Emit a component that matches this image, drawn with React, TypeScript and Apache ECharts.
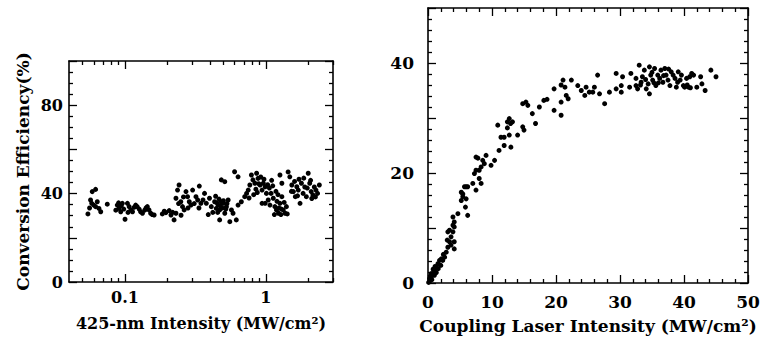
import React, { useEffect, useRef } from 'react';
import * as echarts from 'echarts';

const FONT = 'DejaVu Serif';

// Left panel: 425-nm intensity (MW/cm^2, log scale) vs conversion efficiency (%)
const leftX = [
  0.0545, 0.0569, 0.0585, 0.0618, 0.058, 0.06, 0.0635, 0.0653, 0.0672, 0.0618, 0.0748, 0.056,
  0.0881, 0.0906, 0.0932, 0.0957, 0.1, 0.104, 0.107, 0.11, 0.113, 0.119, 0.122, 0.129, 0.133, 0.144, 0.148, 0.152, 0.161, 0.09, 0.098, 0.105, 0.116, 0.126, 0.138, 0.156, 0.141, 0.086, 0.094,
  0.184, 0.195, 0.206, 0.212, 0.223, 0.23, 0.242, 0.236, 0.23, 0.249, 0.256, 0.263, 0.271, 0.278, 0.286, 0.294, 0.302, 0.319, 0.328, 0.337, 0.346, 0.24, 0.26, 0.28, 0.31, 0.335, 0.25, 0.218, 0.19,
  0.358, 0.367, 0.378, 0.398, 0.41, 0.433, 0.445, 0.458, 0.47, 0.483, 0.497, 0.511, 0.47, 0.483, 0.511, 0.525, 0.54, 0.555, 0.57, 0.585, 0.6, 0.617, 0.635, 0.635, 0.39, 0.42, 0.45, 0.465, 0.49, 0.5, 0.52, 0.475, 0.455, 0.53, 0.44,
  0.67, 0.708, 0.73, 0.75, 0.77, 0.79, 0.81, 0.836, 0.86, 0.88, 0.91, 0.94, 0.96, 0.99, 0.94, 0.99, 0.85, 0.89, 0.92, 0.97, 0.82, 0.76, 0.87,
  1.01, 1.04, 1.07, 1.09, 1.13, 1.16, 1.19, 1.23, 1.26, 1.3, 1.33, 1.37, 1.4, 1.26, 1.3, 1.03, 1.06, 1.12, 1.2, 1.24, 1.28, 1.22, 1.35, 1.15, 1.18, 1.29, 1.42, 1.1,
  1.44, 1.48, 1.53, 1.57, 1.62, 1.66, 1.7, 1.75, 1.79, 1.84, 1.89, 1.94, 2.0, 2.05, 2.1, 2.16, 2.21, 2.27, 2.4, 2.33, 1.6, 1.72, 1.86, 1.97, 2.08, 2.25, 1.52, 2.12, 1.68,
];
const leftY = [
  30.8, 37.1, 40.9, 41.9, 35.6, 34.8, 36.3, 33.3, 31.8, 34.1, 35.2, 33.5,
  34.8, 33.3, 31.8, 35.6, 28.4, 35.6, 34.1, 32.6, 31.8, 34.8, 34.1, 31.8, 31.1, 34.1, 32.6, 31.1, 30.3, 35.8, 33.0, 31.5, 33.8, 33.0, 32.5, 30.5, 33.5, 32.5, 34.5,
  30.8, 31.4, 32.3, 30.3, 28.1, 31.1, 43.9, 41.6, 37.9, 36.3, 34.1, 32.6, 40.9, 38.6, 36.3, 34.8, 41.6, 38.6, 37.1, 43.4, 35.6, 35.5, 38.5, 33.5, 35.5, 33.5, 30.2, 31.5, 32.0,
  37.1, 40.1, 35.6, 37.9, 34.1, 36.3, 33.3, 34.8, 32.6, 36.3, 35.6, 31.1, 28.1, 46.2, 45.4, 34.1, 37.1, 27.3, 32.6, 31.1, 49.9, 28.1, 47.6, 34.8, 30.5, 31.5, 35.8, 37.5, 33.5, 36.8, 33.0, 34.5, 31.5, 35.5, 38.8,
  36.3, 38.6, 40.1, 41.6, 43.9, 48.4, 46.2, 44.7, 49.2, 46.9, 43.9, 41.6, 44.7, 43.1, 35.6, 35.6, 42.0, 44.5, 47.5, 46.5, 39.5, 38.0, 40.5,
  40.1, 37.1, 34.8, 40.1, 37.9, 34.1, 32.6, 31.1, 35.6, 38.6, 32.6, 31.1, 34.1, 48.4, 44.7, 44.0, 42.5, 43.5, 36.5, 33.5, 30.5, 39.5, 36.0, 30.5, 41.0, 33.0, 30.8, 46.0,
  49.8, 47.6, 43.9, 40.9, 38.6, 43.1, 41.6, 35.6, 44.7, 40.1, 43.0, 38.6, 49.2, 44.7, 40.9, 39.4, 43.0, 41.6, 43.9, 40.1, 45.5, 46.5, 47.0, 42.5, 46.0, 38.5, 41.0, 37.8, 39.0,
];

// Right panel: coupling laser intensity (MW/cm^2) vs conversion efficiency (%)
const rightX = [
  0.1, 0.25, 0.5, 0.8, 1.0, 1.3, 1.55, 1.8, 2.07, 2.3, 2.6, 0.5, 0.8, 1.3, 0.3, 0.6, 1.0, 1.6, 2.0, 1.1, 0.4,
  2.85, 3.1, 3.36, 3.6, 3.1, 3.36, 3.9, 4.1, 3.9, 4.1, 3.9, 4.1, 4.1, 3.6, 2.4, 3.0,
  4.67, 5.2, 5.44, 5.7, 5.2, 5.44, 5.96, 5.85, 6.2, 5.96, 6.2, 7.0, 7.5, 7.25, 7.5, 7.8, 7.5, 8.0, 8.3, 8.0, 8.3, 8.55, 8.8, 9.07, 9.85, 10.4,
  10.9, 11.1, 11.4, 11.9, 11.9, 12.4, 12.7, 12.9, 13.2, 12.4, 12.7, 12.95, 14.0, 14.8, 15.0, 14.8, 15.3, 15.6, 16.3, 16.8, 17.4, 18.1, 18.6, 19.7, 19.7,
  20.8, 20.8, 21.1, 20.8, 21.4, 21.6, 21.9, 22.4, 23.4, 23.95, 24.5, 24.7, 25.2, 25.75, 26.0, 26.5, 26.8, 27.6, 28.35, 29.4, 29.4, 30.2, 30.4, 30.2,
  31.5, 31.7, 32.5, 32.5, 32.75, 33.0, 33.3, 33.5, 33.8, 34.1, 34.4, 34.6, 34.6, 34.8, 35.1, 35.4, 35.6, 35.9, 36.2, 36.4, 36.7, 37.0, 37.2, 37.5, 37.8,
  38.0, 38.3, 38.6, 38.8, 39.1, 39.4, 39.6, 39.9, 40.1, 40.4, 40.7, 40.9, 41.2, 41.5, 42.0, 42.6, 42.8, 43.3, 44.2, 45.0,
  33.2, 34.0, 35.0, 36.0, 37.6, 39.0, 40.5, 41.0, 35.3, 36.8,
];
const rightY = [
  0.1, 0.8, 1.1, 1.7, 2.3, 2.9, 3.5, 4.1, 4.4, 4.1, 4.7, 1.7, 2.5, 1.9, 0.4, 0.6, 1.4, 2.6, 3.2, 3.0, 1.3,
  5.6, 6.5, 7.5, 8.4, 9.3, 9.6, 9.3, 10.2, 10.5, 11.1, 12.0, 7.5, 6.2, 6.9, 5.2, 7.8,
  12.6, 15.0, 16.2, 17.5, 16.5, 15.7, 15.3, 13.8, 12.3, 17.5, 17.5, 18.1, 16.9, 19.9, 22.9, 22.7, 20.5, 20.5, 21.1, 19.0, 18.1, 22.3, 21.7, 23.2, 21.4, 22.3,
  28.7, 24.1, 26.5, 26.5, 25.0, 29.3, 29.9, 29.0, 29.3, 28.2, 26.9, 24.7, 26.9, 28.4, 27.8, 32.6, 32.9, 32.3, 30.8, 29.0, 32.0, 33.2, 33.4, 35.3, 31.4,
  30.5, 32.9, 36.9, 36.0, 35.6, 34.1, 33.5, 36.9, 35.9, 35.0, 34.1, 35.6, 34.7, 34.7, 35.6, 37.8, 34.4, 32.6, 34.7, 35.3, 38.1, 34.7, 37.5, 35.9,
  35.6, 38.1, 37.2, 35.9, 35.3, 39.6, 36.5, 37.5, 38.7, 35.3, 36.2, 34.4, 39.3, 37.8, 36.9, 39.0, 35.9, 37.8, 37.2, 38.7, 36.5, 39.0, 37.8, 36.9, 35.9,
  38.4, 37.8, 37.2, 35.6, 38.4, 36.9, 37.8, 35.9, 35.6, 37.2, 35.6, 37.5, 38.1, 37.8, 35.6, 37.5, 36.2, 35.0, 38.7, 37.5,
  36.0, 37.0, 38.3, 36.4, 38.9, 36.5, 36.0, 35.5, 36.4, 37.7,
];

// Tick values
const logMajorTicks = [0.1, 1];
const logMinorTicks = [0.05, 0.06, 0.07, 0.08, 0.09, 0.2, 0.3, 0.4, 0.5, 0.6, 0.7, 0.8, 0.9, 2, 3];
const leftYLabels = [0, 40, 80];
const rightYLabels = [0, 20, 40];
const LOG_MIN = 0.04;
const LOG_MAX = 3;

const lg = (v: number) => Math.log10(v);

const labelText = { fontFamily: FONT, fontWeight: 'bold' as const, fontSize: 16, color: '#000' };
const nameText = { fontFamily: FONT, fontWeight: 'bold' as const, fontSize: 16, color: '#000' };
const lineStyle = { color: '#000', width: 1.6 };
const tickLine = { color: '#000', width: 1.3 };

function logAxis(position: 'top' | 'bottom', major: boolean, withLabels: boolean, extra: any = {}) {
  const values = (major ? logMajorTicks : logMinorTicks).map(lg);
  return {
    type: 'value',
    gridIndex: 0,
    position,
    min: lg(LOG_MIN),
    max: lg(LOG_MAX),
    axisLine: { show: major, onZero: false, lineStyle },
    axisTick: { show: true, inside: true, length: major ? 8 : 4, customValues: values, lineStyle: tickLine },
    axisLabel: withLabels
      ? {
          show: true,
          customValues: values,
          margin: 7,
          ...labelText,
          formatter: (v: number) => String(Math.round(Math.pow(10, v) * 100) / 100),
        }
      : { show: false },
    splitLine: { show: false },
    ...extra,
  };
}

function linAxis(grid: number, position: string, max: number, interval: number, minorSplit: number, labelFn: ((v: number) => string) | null, margin: number, extra: any = {}) {
  return {
    type: 'value',
    gridIndex: grid,
    position,
    min: 0,
    max,
    interval,
    axisLine: { show: true, onZero: false, lineStyle },
    axisTick: { show: true, inside: true, length: 8, lineStyle: tickLine },
    minorTick: { show: true, splitNumber: minorSplit, length: 4, lineStyle: tickLine },
    axisLabel: labelFn ? { show: true, margin, ...labelText, formatter: labelFn } : { show: false },
    splitLine: { show: false },
    minorSplitLine: { show: false },
    ...extra,
  };
}

export default function App() {
  const ref = useRef<HTMLDivElement>(null);
  useEffect(() => {
    const chart = echarts.init(ref.current!, null, { renderer: 'svg' });
    const leftData = leftX.map((x, i) => [lg(x), leftY[i]]);
    const rightData = rightX.map((x, i) => [x, rightY[i]]);
    chart.setOption({
      animation: false,
      backgroundColor: '#fff',
      grid: [
        { left: 69, top: 61, width: 264, height: 221 },
        { left: 428, top: 8, width: 320, height: 275 },
      ],
      xAxis: [
        logAxis('bottom', true, true, {
          name: '425-nm Intensity (MW/cm²)',
          nameLocation: 'middle',
          nameGap: 33,
          nameTextStyle: nameText,
        }),
        logAxis('bottom', false, false),
        logAxis('top', true, false),
        logAxis('top', false, false),
        linAxis(1, 'bottom', 50, 10, 5, (v) => String(v), 10, {
          name: 'Coupling Laser Intensity (MW/cm²)',
          nameLocation: 'middle',
          nameGap: 34,
          nameTextStyle: { ...nameText, fontSize: 17 },
          axisLabel: { show: true, margin: 10, ...labelText, fontSize: 17, formatter: (v: number) => String(v) },
        }),
        linAxis(1, 'top', 50, 10, 5, null, 0),
      ],
      yAxis: [
        linAxis(0, 'left', 100, 20, 4, (v) => (leftYLabels.includes(v) ? String(v) : ''), 6, {
          name: 'Conversion Efficiency(%)',
          nameLocation: 'middle',
          nameGap: 38,
          nameRotate: 90,
          nameTextStyle: { ...nameText, fontSize: 17 },
        }),
        linAxis(0, 'right', 100, 20, 4, null, 0),
        linAxis(1, 'left', 50, 10, 5, (v) => (rightYLabels.includes(v) ? String(v) : ''), 14, {
          axisLabel: {
            show: true,
            margin: 14,
            ...labelText,
            fontSize: 17,
            formatter: (v: number) => (rightYLabels.includes(v) ? String(v) : ''),
          },
        }),
        linAxis(1, 'right', 50, 10, 5, null, 0),
      ],
      series: [
        {
          type: 'scatter',
          xAxisIndex: 0,
          yAxisIndex: 0,
          data: leftData,
          symbolSize: 5,
          itemStyle: { color: '#000', opacity: 1 },
        },
        {
          type: 'scatter',
          xAxisIndex: 4,
          yAxisIndex: 2,
          data: rightData,
          symbolSize: 5,
          itemStyle: { color: '#000', opacity: 1 },
        },
      ],
    });
    return () => chart.dispose();
  }, []);
  return <div ref={ref} style={{ position: 'fixed', left: 0, top: 0, width: 767, height: 343 }} />;
}
